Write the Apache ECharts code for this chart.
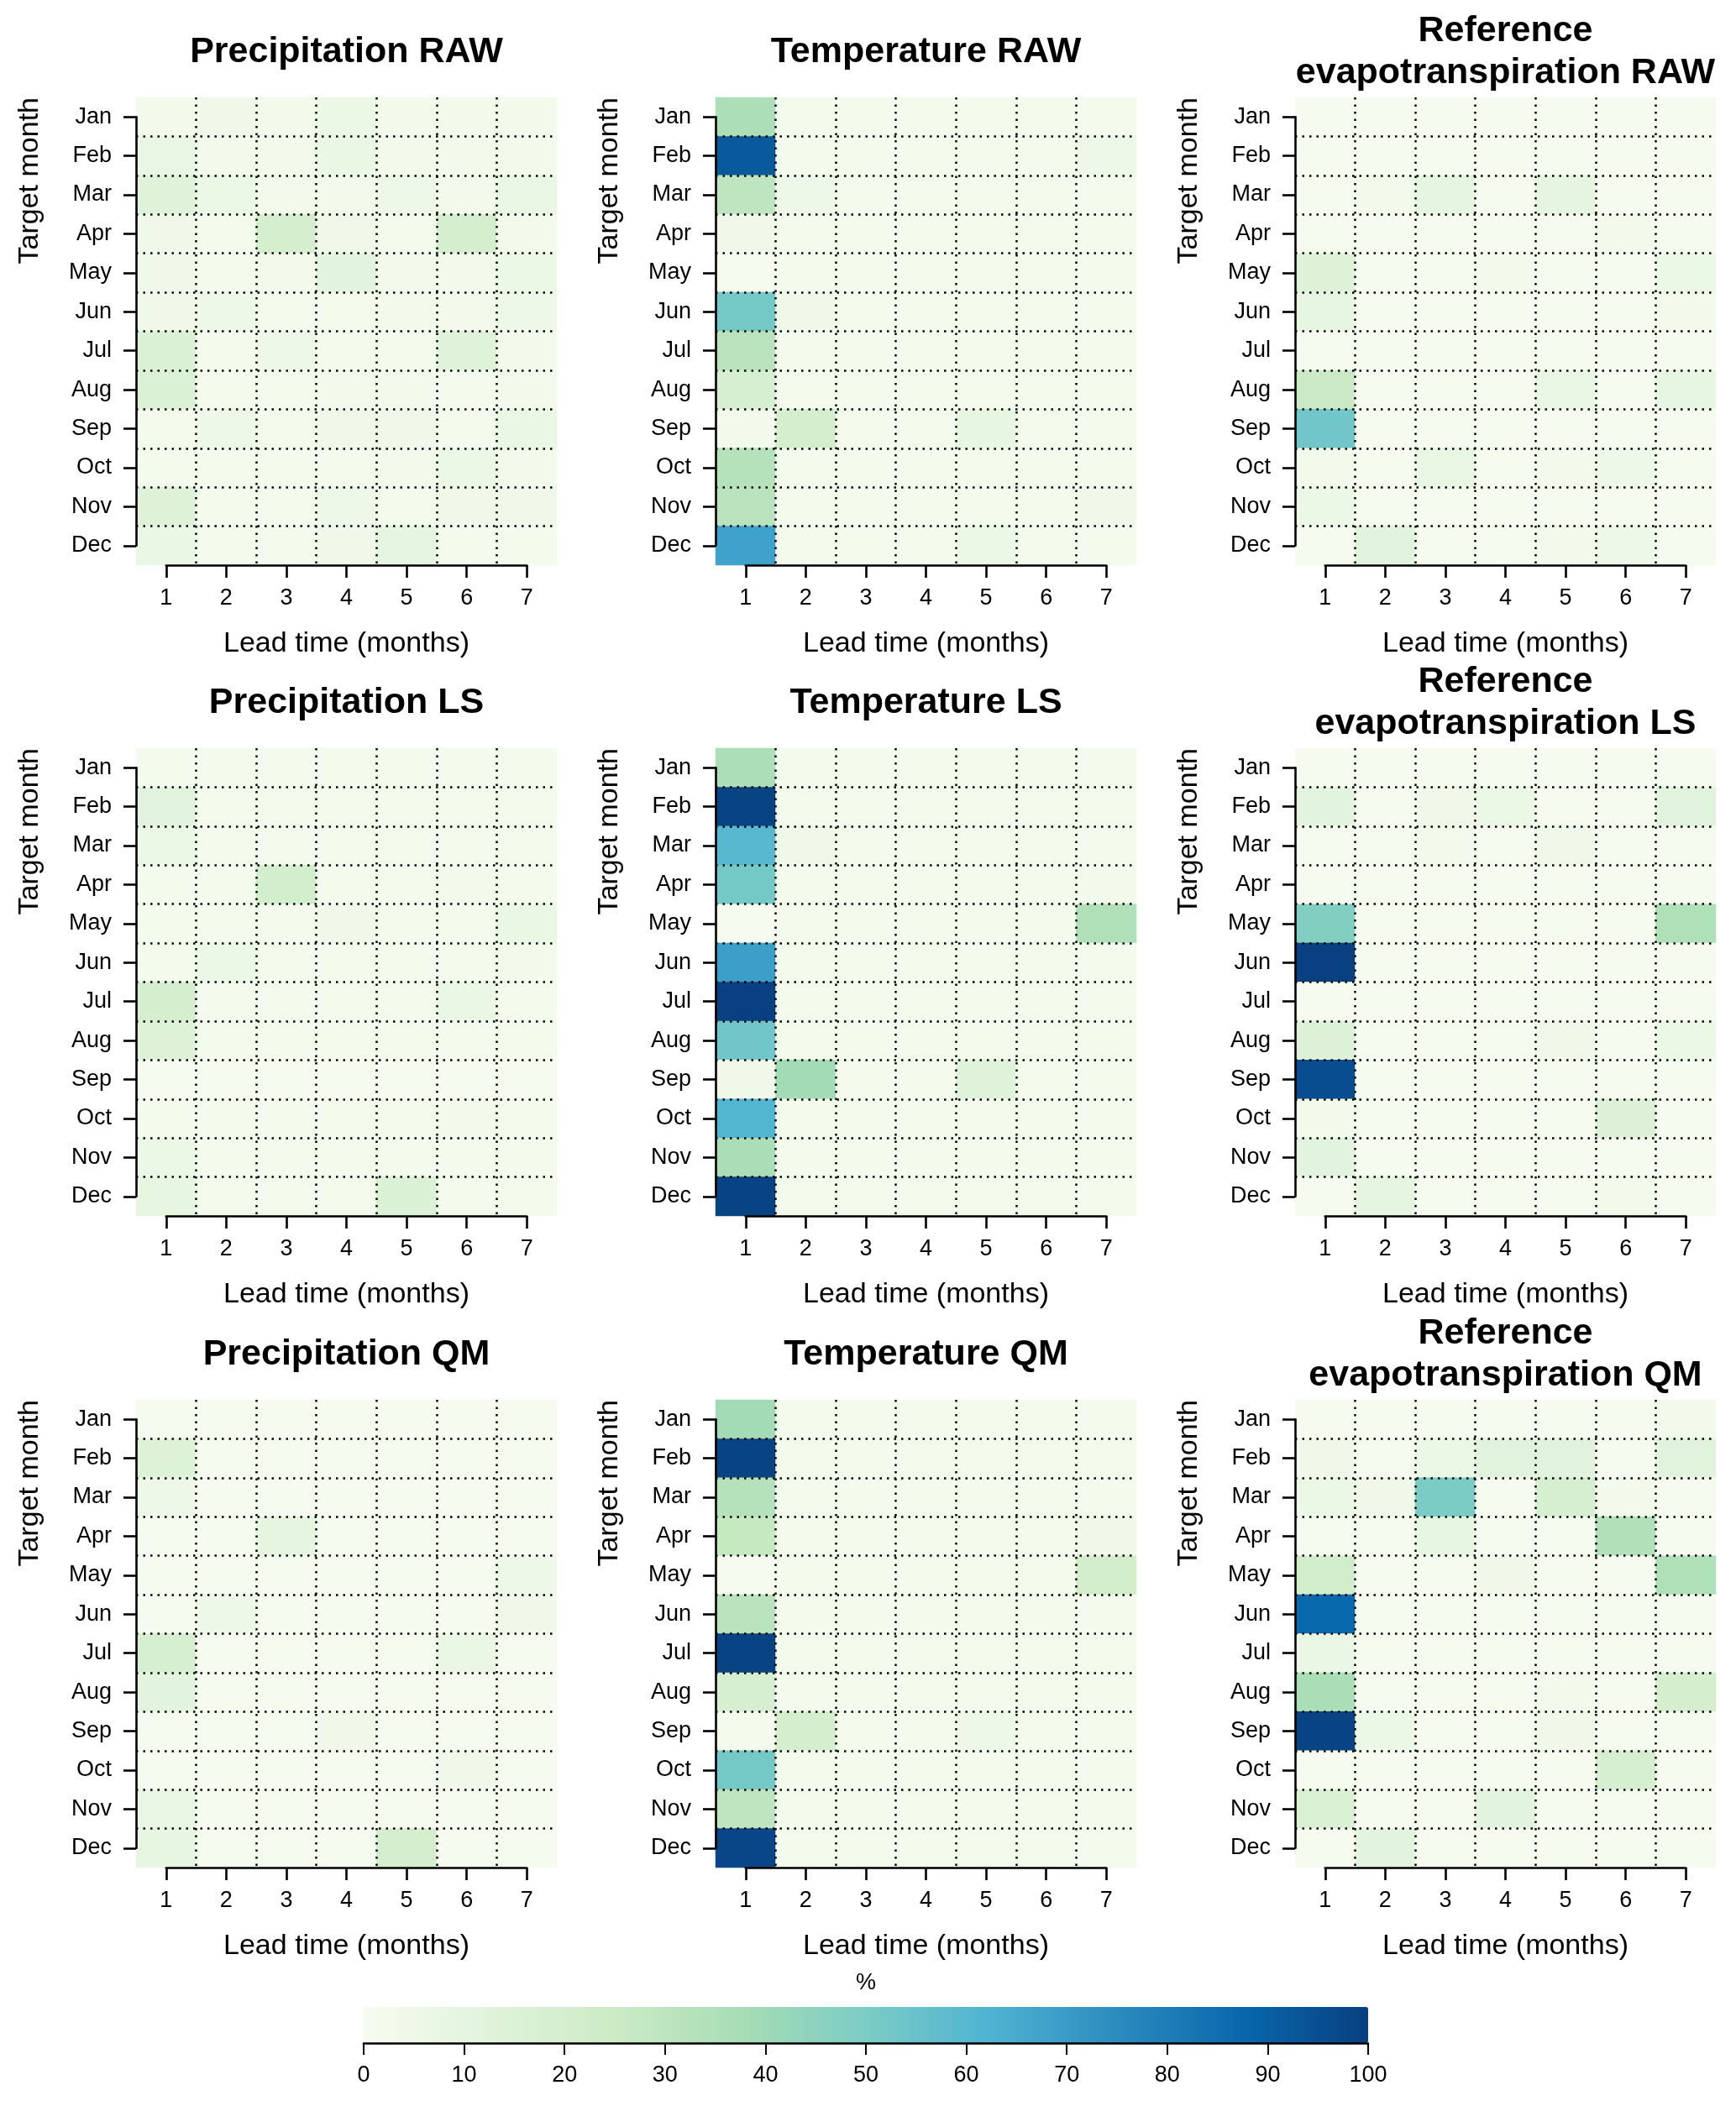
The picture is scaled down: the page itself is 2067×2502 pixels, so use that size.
<!DOCTYPE html>
<html>
<head>
<meta charset="utf-8">
<title>Lead time heatmaps</title>
<script src="https://cdn.jsdelivr.net/npm/echarts@6/dist/echarts.min.js"></script>
<style>
html, body { margin: 0; padding: 0; background: #fff; }
#chart { width: 2067px; height: 2502px; }
</style>
</head>
<body>
<div id="chart"></div>
<script>
// categories
var months = ['Jan', 'Feb', 'Mar', 'Apr', 'May', 'Jun', 'Jul', 'Aug', 'Sep', 'Oct', 'Nov', 'Dec'];
var leads = ['1', '2', '3', '4', '5', '6', '7'];

// values in %, one row per target month, one column per lead time
var precipRaw = [
    [3, 4, 3, 6, 3, 3, 3],
    [8, 3, 3, 7, 3, 3, 3],
    [13, 6, 3, 3, 5, 3, 8],
    [4, 2, 20, 4, 2, 20, 3],
    [4, 2, 3, 11, 3, 3, 6],
    [4, 5, 2, 2, 3, 3, 5],
    [16, 2, 5, 2, 2, 13, 3],
    [16, 2, 2, 3, 3, 2, 3],
    [2, 5, 2, 4, 4, 2, 7],
    [2, 2, 2, 2, 3, 6, 3],
    [14, 2, 2, 5, 2, 4, 4],
    [7, 2, 2, 4, 10, 2, 2]
];
var tempRaw = [
    [36, 2, 2, 2, 2, 2, 2],
    [92, 2, 2, 2, 2, 2, 5],
    [30, 5, 2, 2, 2, 2, 2],
    [4, 2, 2, 2, 2, 2, 2],
    [1, 2, 2, 2, 2, 2, 2],
    [52, 4, 2, 2, 2, 2, 2],
    [32, 2, 2, 2, 2, 2, 2],
    [19, 2, 2, 2, 2, 2, 2],
    [3, 20, 2, 2, 9, 2, 2],
    [33, 2, 2, 2, 2, 2, 2],
    [32, 2, 2, 2, 2, 2, 4],
    [68, 2, 2, 2, 6, 2, 2]
];
var etRaw = [
    [1, 1, 1, 1, 1, 1, 1],
    [1, 1, 1, 1, 1, 1, 1],
    [1, 3, 10, 1, 10, 1, 1],
    [1, 1, 1, 1, 1, 3, 1],
    [14, 1, 1, 3, 1, 1, 6],
    [9, 1, 1, 1, 1, 1, 3],
    [1, 1, 1, 1, 1, 1, 1],
    [26, 1, 1, 1, 8, 1, 9],
    [53, 1, 1, 1, 1, 1, 1],
    [3, 1, 8, 1, 3, 5, 1],
    [6, 1, 1, 1, 1, 1, 1],
    [1, 12, 1, 1, 3, 5, 1]
];
var precipLs = [
    [2, 2, 2, 2, 2, 2, 2],
    [12, 2, 2, 2, 2, 2, 2],
    [6, 2, 2, 2, 2, 2, 2],
    [2, 2, 21, 2, 2, 3, 2],
    [2, 2, 2, 4, 2, 2, 7],
    [2, 6, 2, 2, 2, 2, 3],
    [20, 2, 2, 2, 2, 7, 2],
    [14, 2, 2, 2, 2, 2, 2],
    [1, 1, 1, 1, 1, 1, 1],
    [2, 2, 2, 2, 2, 3, 2],
    [6, 2, 2, 2, 2, 2, 2],
    [9, 2, 2, 2, 16, 2, 2]
];
var tempLs = [
    [36, 2, 2, 2, 2, 2, 2],
    [99, 2, 2, 2, 2, 2, 2],
    [60, 4, 2, 2, 2, 2, 2],
    [52, 2, 2, 2, 2, 2, 3],
    [1, 2, 2, 2, 2, 2, 35],
    [69, 2, 2, 2, 2, 2, 2],
    [100, 2, 2, 2, 2, 2, 2],
    [53, 2, 2, 2, 2, 2, 2],
    [4, 39, 2, 2, 13, 2, 2],
    [61, 2, 2, 2, 2, 2, 2],
    [37, 2, 2, 2, 2, 2, 2],
    [99, 2, 2, 2, 2, 2, 2]
];
var etLs = [
    [1, 1, 1, 1, 1, 1, 1],
    [11, 1, 4, 6, 1, 1, 12],
    [1, 1, 3, 1, 4, 1, 1],
    [1, 1, 1, 1, 1, 1, 1],
    [48, 1, 1, 1, 1, 1, 35],
    [100, 1, 1, 1, 1, 1, 1],
    [1, 1, 1, 1, 1, 1, 1],
    [15, 1, 1, 1, 4, 1, 6],
    [96, 1, 1, 1, 1, 1, 1],
    [3, 1, 1, 1, 1, 15, 1],
    [11, 1, 1, 1, 1, 1, 1],
    [1, 10, 1, 1, 1, 3, 1]
];
var precipQm = [
    [1, 1, 1, 1, 1, 1, 1],
    [14, 1, 1, 1, 1, 1, 1],
    [5, 1, 1, 1, 1, 1, 1],
    [1, 1, 10, 1, 1, 1, 1],
    [1, 1, 1, 1, 1, 1, 5],
    [1, 5, 1, 1, 1, 1, 4],
    [19, 1, 1, 1, 1, 7, 1],
    [11, 1, 1, 1, 1, 1, 1],
    [1, 1, 1, 4, 1, 1, 1],
    [1, 1, 1, 1, 1, 4, 1],
    [8, 1, 1, 1, 1, 1, 1],
    [9, 1, 1, 1, 20, 1, 1]
];
var tempQm = [
    [39, 2, 2, 2, 2, 2, 2],
    [99, 2, 2, 2, 2, 2, 2],
    [33, 2, 2, 2, 2, 2, 2],
    [27, 2, 2, 2, 2, 2, 4],
    [1, 2, 2, 2, 2, 2, 22],
    [32, 2, 2, 2, 2, 2, 2],
    [99, 2, 2, 2, 2, 2, 2],
    [19, 2, 2, 2, 2, 2, 2],
    [2, 20, 2, 2, 5, 2, 2],
    [52, 2, 2, 2, 2, 2, 2],
    [30, 2, 2, 2, 2, 2, 2],
    [98, 2, 2, 2, 2, 2, 2]
];
var etQm = [
    [1, 1, 1, 1, 1, 1, 3],
    [4, 1, 6, 12, 12, 1, 12],
    [6, 4, 50, 1, 18, 3, 1],
    [1, 1, 9, 1, 1, 34, 1],
    [22, 1, 1, 4, 1, 1, 35],
    [87, 1, 1, 1, 1, 1, 1],
    [7, 1, 1, 1, 1, 1, 1],
    [37, 1, 1, 1, 3, 1, 20],
    [99, 6, 1, 1, 4, 1, 1],
    [1, 1, 1, 1, 1, 18, 1],
    [17, 1, 1, 11, 1, 1, 1],
    [1, 11, 1, 1, 1, 1, 1]
];

var panelData = [precipRaw, tempRaw, etRaw, precipLs, tempLs, etLs, precipQm, tempQm, etQm];
var panelTitles = [
    'Precipitation RAW', 'Temperature RAW', 'Reference\nevapotranspiration RAW',
    'Precipitation LS', 'Temperature LS', 'Reference\nevapotranspiration LS',
    'Precipitation QM', 'Temperature QM', 'Reference\nevapotranspiration QM'
];

var FONT = '"Liberation Sans", Arial, Helvetica, sans-serif';
var gnbu = ['#f7fcf0', '#e0f3db', '#ccebc5', '#a8ddb5', '#7bccc4', '#4eb3d3', '#2b8cbe', '#0868ac', '#084081'];

// panel geometry (px)
var colLeft = [162, 852, 1542];
var rowTop = [116, 891, 1667];
var plotW = 501, plotH = 557;

var dotted = { color: '#000', width: 2.5, type: [2.5, 6], cap: 'butt' };
var blackLine = { color: '#000', width: 2.6 };

var grids = [], xAxes = [], yAxes = [], series = [], graphics = [];

for (var p = 0; p < 9; p++) {
    var L = colLeft[p % 3], T = rowTop[Math.floor(p / 3)];
    var cw = plotW / 7, rh = plotH / 12;

    // cell grid, dotted lines between cells drawn on top
    grids.push({ left: L, top: T, width: plotW, height: plotH });
    xAxes.push({
        type: 'category', gridIndex: 2 * p, data: leads, z: 5,
        axisLine: { show: false }, axisTick: { show: false }, axisLabel: { show: false },
        splitLine: { show: true, interval: 0, showMinLine: false, showMaxLine: false, lineStyle: dotted }
    });
    yAxes.push({
        type: 'category', gridIndex: 2 * p, data: months, inverse: true, z: 5,
        axisLine: { show: false }, axisTick: { show: false }, axisLabel: { show: false },
        splitLine: { show: true, interval: 0, showMinLine: false, showMaxLine: false, lineStyle: dotted }
    });

    // axis grid: lines only run from first to last tick, like R
    grids.push({ left: L + cw / 2, top: T + rh / 2, width: plotW - cw, height: plotH - rh });
    xAxes.push({
        type: 'category', gridIndex: 2 * p + 1, data: leads, boundaryGap: false,
        position: 'bottom', offset: rh / 2, z: 6,
        axisLine: { show: true, lineStyle: { color: '#000', width: 2.6 } },
        axisTick: { show: true, interval: 0, length: 15, lineStyle: { color: '#000', width: 2.6 } },
        axisLabel: { show: true, interval: 0, color: '#000', fontSize: 27, fontFamily: FONT, margin: 26 },
        splitLine: { show: false },
        name: 'Lead time (months)', nameLocation: 'middle', nameGap: 77,
        nameTextStyle: { color: '#000', fontSize: 34, fontFamily: FONT, lineHeight: 34 }
    });
    yAxes.push({
        type: 'category', gridIndex: 2 * p + 1, data: months, inverse: true, boundaryGap: false,
        position: 'left', offset: cw / 2, z: 6,
        axisLine: { show: true, lineStyle: { color: '#000', width: 2.6 } },
        axisTick: { show: true, interval: 0, length: 15, lineStyle: { color: '#000', width: 2.6 } },
        axisLabel: { show: true, interval: 0, color: '#000', fontSize: 27, fontFamily: FONT, margin: 29 },
        splitLine: { show: false }
    });

    var cells = [];
    var rows = panelData[p];
    for (var i = 0; i < rows.length; i++) {
        for (var j = 0; j < rows[i].length; j++) {
            cells.push([j, i, rows[i][j]]);
        }
    }
    series.push({
        type: 'heatmap', name: panelTitles[p],
        xAxisIndex: 2 * p, yAxisIndex: 2 * p,
        data: cells,
        itemStyle: { borderWidth: 0 },
        emphasis: { disabled: true }
    });

    graphics.push({
        type: 'text', x: L + plotW / 2, y: T - 54,
        style: {
            text: panelTitles[p], fill: '#000', font: 'bold 43px ' + FONT,
            textAlign: 'center', textVerticalAlign: 'middle', lineHeight: 50
        }
    });
    graphics.push({
        type: 'text', x: L - 126, y: T, rotation: Math.PI / 2,
        style: {
            text: 'Target month', fill: '#000', font: '34px ' + FONT,
            textAlign: 'right', textVerticalAlign: 'middle'
        }
    });
}

// colour bar axis
var cbLeft = 433, cbTop = 2390, cbW = 1196, cbH = 43;
grids.push({ left: cbLeft, top: cbTop, width: cbW, height: cbH });
xAxes.push({
    type: 'value', gridIndex: 18, min: 0, max: 100, interval: 10, position: 'bottom', z: 10,
    axisLine: { show: true, lineStyle: blackLine },
    axisTick: { show: true, length: 14, lineStyle: { color: '#000', width: 2 } },
    axisLabel: { color: '#000', fontSize: 27, fontFamily: FONT, margin: 25 },
    splitLine: { show: false }
});
yAxes.push({ type: 'value', gridIndex: 18, show: false, splitLine: { show: false } });
graphics.push({
    type: 'text', x: cbLeft + cbW / 2, y: 2362,
    style: { text: '%', fill: '#000', font: '27px ' + FONT, textAlign: 'center', textVerticalAlign: 'middle' }
});

var chart = echarts.init(document.getElementById('chart'));
chart.setOption({
    backgroundColor: '#fff',
    animation: false,
    grid: grids,
    xAxis: xAxes,
    yAxis: yAxes,
    visualMap: {
        type: 'continuous', min: 0, max: 100, calculable: false, hoverLink: false,
        orient: 'horizontal', left: cbLeft, top: cbTop, padding: 0,
        itemWidth: cbH, itemHeight: cbW, text: null,
        inRange: { color: gnbu }
    },
    series: series,
    graphic: graphics
});
</script>
</body>
</html>
